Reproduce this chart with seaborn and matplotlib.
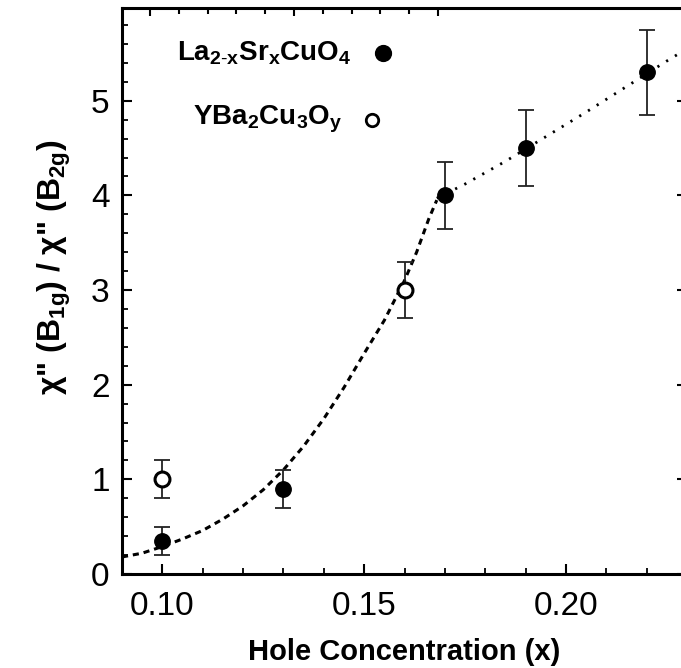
import numpy as np
import pandas as pd
import seaborn as sns
import matplotlib.pyplot as plt
from matplotlib.ticker import MultipleLocator, FixedLocator

# La(2-x)Sr(x)CuO4 points (filled)
lsco_x = [0.10, 0.13, 0.17, 0.19, 0.22]
lsco_y = [0.35, 0.90, 4.00, 4.50, 5.30]
lsco_err = [0.15, 0.20, 0.35, 0.40, 0.45]

# YBa2Cu3Oy points (open)
ybco_x = [0.10, 0.16]
ybco_y = [1.00, 3.00]
ybco_err = [0.20, 0.30]

# guide to the eye
dash_x = [0.090, 0.095, 0.100, 0.105, 0.110, 0.115, 0.120, 0.125, 0.130, 0.135,
          0.140, 0.145, 0.150, 0.155, 0.160, 0.163, 0.166, 0.168]
dash_y = [0.18, 0.22, 0.29, 0.37, 0.46, 0.58, 0.72, 0.89, 1.10, 1.35,
          1.64, 1.97, 2.33, 2.68, 3.10, 3.40, 3.75, 3.95]
dot_x = [0.168, 0.175, 0.185, 0.195, 0.205, 0.215, 0.225, 0.230]
dot_y = [3.97, 4.12, 4.36, 4.62, 4.88, 5.15, 5.42, 5.55]

# top axis ticks (arbitrary second scale)
top_major = [0, 5, 10]
top_minor = list(range(11))

sns.set_style("ticks")
plt.rcParams['font.family'] = ['Liberation Sans', 'DejaVu Sans']
plt.rcParams['mathtext.fontset'] = 'custom'
plt.rcParams['mathtext.bf'] = 'Liberation Sans:bold'
plt.rcParams['mathtext.rm'] = 'Liberation Sans'
plt.rcParams['text.color'] = 'black'
plt.rcParams['axes.labelcolor'] = 'black'
plt.rcParams['xtick.color'] = 'black'
plt.rcParams['ytick.color'] = 'black'

fig = plt.figure(figsize=(6.81, 6.68), dpi=100)
ax = fig.add_axes([122 / 681, 94 / 668, 565 / 681, 566 / 668])

sns.lineplot(x=dash_x, y=dash_y, ax=ax, color='black', lw=2.2,
             linestyle=(0, (2.0, 1.6)), sort=False)
sns.lineplot(x=dot_x, y=dot_y, ax=ax, color='black', lw=2.0,
             linestyle=(0, (0.8, 2.9)), sort=False)

ax.errorbar(lsco_x, lsco_y, yerr=lsco_err, fmt='none', ecolor='#222222',
            elinewidth=1.3, capsize=6, capthick=1.3, zorder=3)
ax.errorbar(ybco_x, ybco_y, yerr=ybco_err, fmt='none', ecolor='#222222',
            elinewidth=1.3, capsize=6, capthick=1.3, zorder=3)

sns.scatterplot(x=lsco_x, y=lsco_y, ax=ax, color='black', s=125,
                edgecolor='black', zorder=4)
sns.scatterplot(x=ybco_x, y=ybco_y, ax=ax, color='white', s=115,
                edgecolor='black', linewidth=2.2, zorder=4)

# legend drawn as text + markers
ax.scatter([0.1546], [5.50], s=130, color='black', zorder=5)
ax.scatter([0.1519], [4.80], s=80, facecolor='white', edgecolor='black',
           linewidth=2.0, zorder=5)
ax.text(0.1469, 5.50, r'La$_{\mathbf{2\text{-}x}}$Sr$_{\mathbf{x}}$CuO$_{\mathbf{4}}$',
        ha='right', va='center', fontsize=20, fontweight='bold')
ax.text(0.1445, 4.80, r'YBa$_{\mathbf{2}}$Cu$_{\mathbf{3}}$O$_{\mathbf{y}}$',
        ha='right', va='center', fontsize=20, fontweight='bold')

ax.set_xlim(0.09, 0.23)
ax.set_ylim(0, 5.98)
ax.xaxis.set_major_locator(FixedLocator([0.10, 0.15, 0.20]))
ax.xaxis.set_minor_locator(MultipleLocator(0.01))
ax.yaxis.set_major_locator(FixedLocator([0, 1, 2, 3, 4, 5]))
ax.yaxis.set_minor_locator(MultipleLocator(0.2))
ax.set_xticklabels(['0.10', '0.15', '0.20'])

ax.tick_params(which='both', direction='in', top=False, right=True)
ax.tick_params(which='major', length=7, width=1.5, labelsize=24)
ax.tick_params(which='minor', length=4.5, width=1.3, right=False)
ax.tick_params(axis='x', which='major', pad=12)
ax.tick_params(axis='y', which='major', pad=9)

ax.set_xlabel('Hole Concentration (x)', fontsize=21, fontweight='bold')
ax.set_ylabel(r'χ" (B$_{\mathbf{1g}}$) / χ" (B$_{\mathbf{2g}}$)',
              fontsize=23, fontweight='bold')
ax.xaxis.set_label_coords(0.5, -0.113)
ax.yaxis.set_label_coords(-0.087, 0.542)

for sp in ax.spines.values():
    sp.set_linewidth(2.2)
    sp.set_color('black')

top = ax.twiny()
top.set_xlim(-0.97, 18.65)
top.xaxis.set_major_locator(FixedLocator(top_major))
top.xaxis.set_minor_locator(FixedLocator(top_minor))
top.tick_params(which='both', direction='in', labeltop=False)
top.tick_params(which='major', length=6, width=1.5)
top.tick_params(which='minor', length=4, width=1.5)
for sp in top.spines.values():
    sp.set_visible(False)

fig.savefig('out.png', dpi=100)
